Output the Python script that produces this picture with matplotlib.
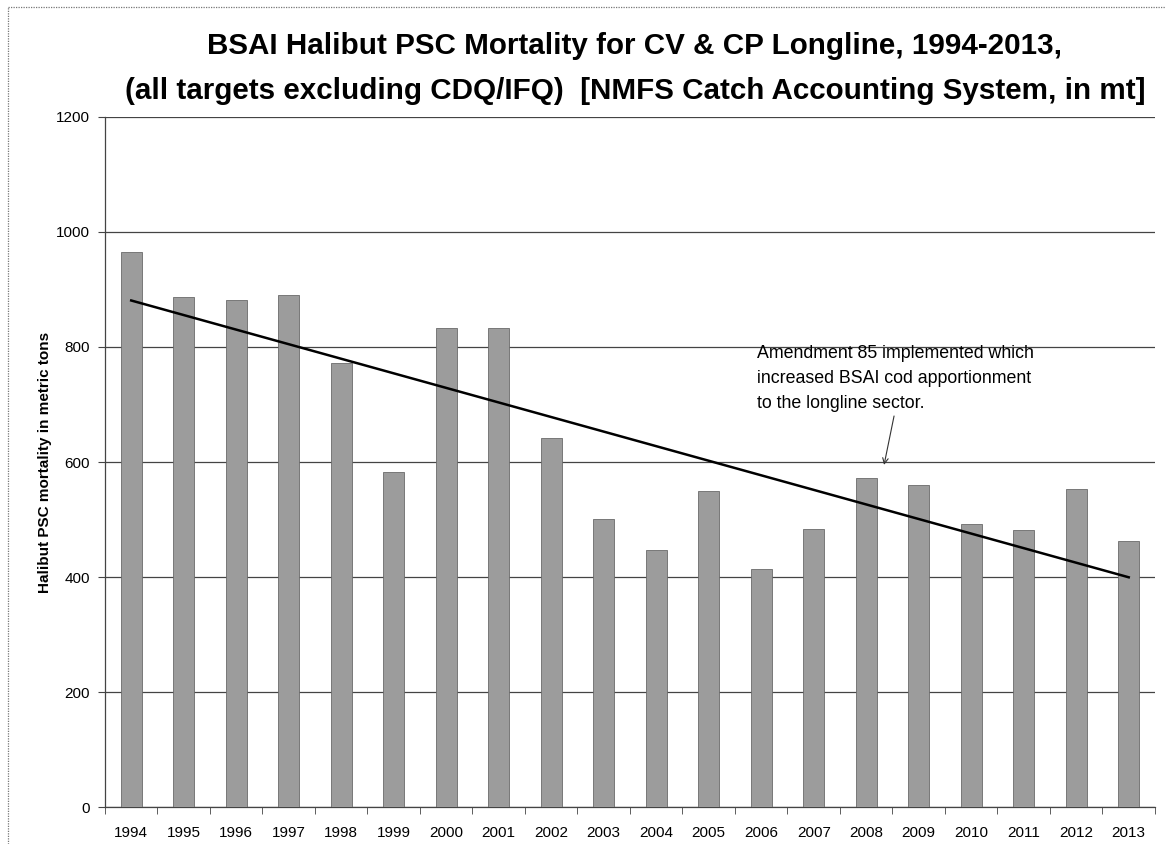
import numpy as np
import matplotlib
matplotlib.use("Agg")
import matplotlib.pyplot as plt
from matplotlib.lines import Line2D

plt.rcParams['font.family'] = ['Liberation Sans', 'DejaVu Sans']

# data (mt)
years = ['1994', '1995', '1996', '1997', '1998', '1999', '2000', '2001', '2002', '2003',
         '2004', '2005', '2006', '2007', '2008', '2009', '2010', '2011', '2012', '2013']
mortality = [965, 887, 882, 890, 772, 583, 833, 833, 642, 501,
             447, 550, 414, 483, 572, 560, 492, 482, 553, 463]
yticks = [0, 200, 400, 600, 800, 1000, 1200]

title = ('BSAI Halibut PSC Mortality for CV & CP Longline, 1994-2013,\n'
         '(all targets excluding CDQ/IFQ)  [NMFS Catch Accounting System, in mt]')
ylabel = 'Halibut PSC mortality in metric tons'
note = ('Amendment 85 implemented which\n'
        'increased BSAI cod apportionment\n'
        'to the longline sector.')

x = np.arange(len(years))

fig = plt.figure(figsize=(11.65, 8.44), dpi=100)
ax = fig.add_axes([0.0901, 0.0438, 0.9013, 0.8176])

ax.bar(x, mortality, width=0.4, color='#9c9c9c', edgecolor='#6a6a6a', linewidth=0.6, zorder=3)

# linear trend (excel style)
k, b = np.polyfit(x, mortality, 1)
ax.plot([x[0], x[-1]], [k * x[0] + b, k * x[-1] + b], color='black', lw=1.8, zorder=4)

ax.set_xlim(-0.5, len(years) - 0.5)
ax.set_ylim(0, 1200)
ax.set_yticks(yticks)
ax.set_yticklabels([str(t) for t in yticks], fontsize=11)
ax.set_xticks(x)
ax.set_xticklabels(years, fontsize=11)
ax.set_xticks(np.arange(-0.5, len(years)), minor=True)
ax.tick_params(axis='x', which='major', length=0, pad=14)
ax.tick_params(axis='x', which='minor', length=5, direction='out', color='#444444')
ax.tick_params(axis='y', length=5, direction='out', color='#444444', pad=6)

ax.grid(axis='y', color='#444444', lw=0.9, zorder=0)
for s in ['top', 'right']:
    ax.spines[s].set_visible(False)
for s in ['left', 'bottom']:
    ax.spines[s].set_color('#444444')
    ax.spines[s].set_linewidth(0.9)

ax.set_ylabel(ylabel, fontsize=11, fontweight='bold', labelpad=3)

fig.text(0.545, 0.919, title, ha='center', va='center', fontsize=21.3, fontweight='bold',
         linespacing=1.78)

ax.text(11.92, 803, note, fontsize=12.8, ha='left', va='top', linespacing=1.6)
ax.annotate('', xy=(14.34, 595), xytext=(14.53, 680),
            arrowprops=dict(arrowstyle='->', color='#333333', lw=0.8, shrinkA=0, shrinkB=0),
            annotation_clip=False)

# scanned page frame
fig.add_artist(Line2D([8 / 1165, 8 / 1165], [0, 1 - 7 / 844], color='#777777', lw=0.9, ls=(0, (1, 1))))
fig.add_artist(Line2D([8 / 1165, 1], [1 - 7 / 844, 1 - 7 / 844], color='#777777', lw=0.9, ls=(0, (1, 1))))

fig.savefig('out.png', dpi=100)
